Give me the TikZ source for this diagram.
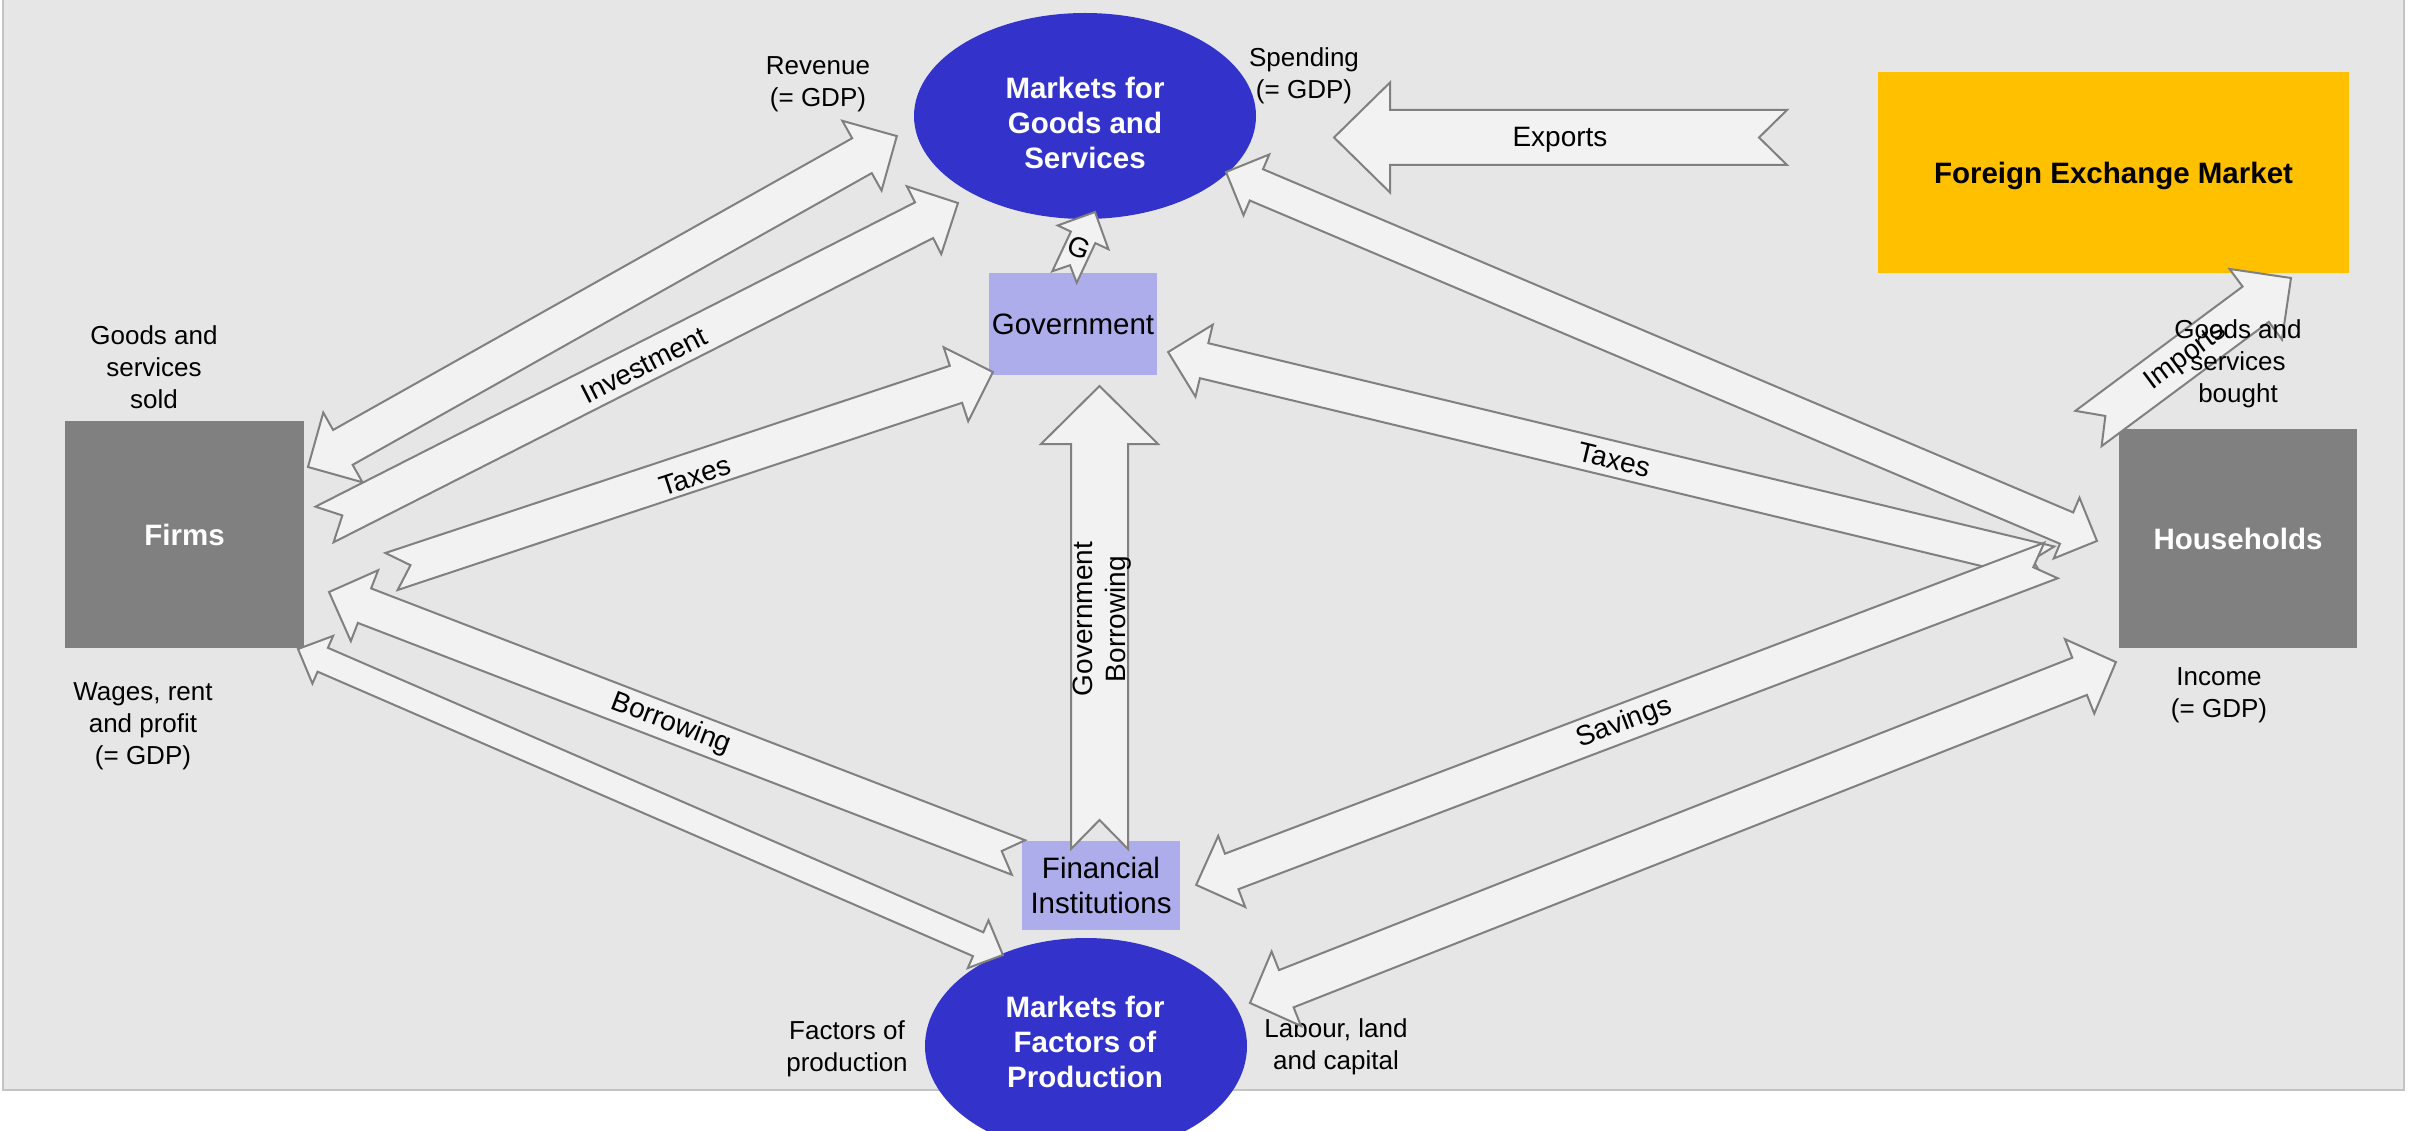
\documentclass[tikz,border=0pt]{standalone}
\usepackage{fontspec}
\setmainfont{Liberation Sans}
\usetikzlibrary{shapes.geometric,calc}
\definecolor{bgc}{HTML}{E6E6E6}
\definecolor{bordc}{HTML}{C4C4C4}
\definecolor{mktc}{HTML}{3333CC}
\definecolor{lavc}{HTML}{ADADEB}
\definecolor{dgrayc}{HTML}{808080}
\definecolor{fxc}{HTML}{FFC000}
\definecolor{afill}{HTML}{F2F2F2}
\definecolor{aline}{HTML}{808080}
\newcommand\fslab{\fontsize{26}{32}\selectfont}
\newcommand\fsnode{\fontsize{29.5}{35}\selectfont}
\newcommand\fsarr{\fontsize{28}{33}\selectfont}
\newcommand\arrowgeom[2]{%
  \path (#1) coordinate (fas) (#2) coordinate (fae);
  \pgfpointdiff{\pgfpointanchor{fas}{center}}{\pgfpointanchor{fae}{center}}%
  \pgfgetlastxy{\fadx}{\fady}%
  \pgfmathsetmacro\faang{atan2(\fady,\fadx)}%
  \pgfmathsetmacro\falen{veclen(\fadx,\fady)}%
}
% #1 tail centre, #2 tip, #3 shaft half width, #4 head half width, #5 head length, #6 notch depth
\newcommand\onearrow[6]{%
  \arrowgeom{#1}{#2}%
  \begin{scope}[shift={(fas)},rotate=\faang]
    \draw[blockarrow] (0pt,#3pt) -- ({\falen pt-#5pt},#3pt) -- ({\falen pt-#5pt},#4pt)
      -- (\falen pt,0pt) -- ({\falen pt-#5pt},-#4pt) -- ({\falen pt-#5pt},-#3pt)
      -- (0pt,-#3pt) -- (#6pt,0pt) -- cycle;
  \end{scope}}
% #1 tip one, #2 tip two, #3 shaft half width, #4 head half width, #5 head length
\newcommand\twoarrow[5]{%
  \arrowgeom{#1}{#2}%
  \begin{scope}[shift={(fas)},rotate=\faang]
    \draw[blockarrow] (#5pt,#3pt) -- ({\falen pt-#5pt},#3pt) -- ({\falen pt-#5pt},#4pt)
      -- (\falen pt,0pt) -- ({\falen pt-#5pt},-#4pt) -- ({\falen pt-#5pt},-#3pt)
      -- (#5pt,-#3pt) -- (#5pt,-#4pt) -- (0pt,0pt) -- (#5pt,#4pt) -- cycle;
  \end{scope}}
\begin{document}
\begin{tikzpicture}[x=1pt,y=-1pt,
  blockarrow/.style={fill=afill,draw=aline,line width=2pt,line join=miter},
  lab/.style={font=\fslab,align=center,inner sep=0pt,text=black},
  alab/.style={font=\fsarr,inner sep=0pt,text=black},
  mkt/.style={ellipse,fill=mktc,inner sep=0pt},
  mkttext/.style={text=white,font=\fsnode\bfseries,align=center,inner sep=0pt},
  lavbox/.style={rectangle,fill=lavc,text=black,font=\fsnode,align=center,inner sep=0pt},
  graybox/.style={rectangle,fill=dgrayc,text=white,font=\fsnode\bfseries,align=center,inner sep=0pt},
  fxbox/.style={rectangle,fill=fxc,inner sep=0pt},
  fxtext/.style={text=black,font=\fsnode\bfseries,align=center,inner sep=0pt}]
\useasboundingbox (0,0) rectangle (2420,1131);
\fill[white] (0,0) rectangle (2420,1131);
\draw[fill=bgc,draw=bordc,line width=1.5pt] (3,-10) rectangle (2404,1090);

% main nodes
\node[mkt,minimum width=342pt,minimum height=206pt] (goods) at (1085,116) {};
\node[mkttext] (goodst) at (1085,123) {Markets for\\Goods and\\Services};
\node[mkt,minimum width=322pt,minimum height=216pt] (factors) at (1086,1046) {};
\node[mkttext] (factorst) at (1085,1042) {Markets for\\Factors of\\Production};
\node[lavbox,minimum width=168pt,minimum height=102pt] (gov) at (1073,324) {Government};
\node[lavbox,minimum width=158pt,minimum height=89pt] (fin) at (1101,885) {Financial\\Institutions};
\node[graybox,minimum width=239pt,minimum height=227pt] (firms) at (184.5,534.5) {Firms};
\node[graybox,minimum width=238pt,minimum height=219pt] (house) at (2238,538.5) {Households};
\node[fxbox,minimum width=471pt,minimum height=201pt] (fx) at (2113.5,172.5) {};
\node[fxtext] (fxt) at (2113.5,176) {Foreign Exchange Market};

% flow labels
\node[lab] (lrev) at (818,84) {Revenue\\(= GDP)};
\node[lab] (lspend) at (1304,76) {Spending\\(= GDP)};
\node[lab] (lsold) at (154,367) {Goods and\\services\\sold};
\node[lab] (lwages) at (143,726) {Wages, rent\\and profit\\(= GDP)};
\node[lab] (lfact) at (847,1049) {Factors of\\production};
\node[lab] (llab) at (1336,1047) {Labour, land\\and capital};
\node[lab] (linc) at (2219,695) {Income\\(= GDP)};

% arrow end points
\coordinate (aF) at (308,467);    \coordinate (aM) at (897,136);
\coordinate (bF) at (324.5,524.5); \coordinate (bM) at (958,203);
\coordinate (cF) at (391.5,571.5); \coordinate (cG) at (993,372);
\coordinate (dI) at (1018.5,857.5); \coordinate (dF) at (329,592);
\coordinate (eF) at (298,649);    \coordinate (eM) at (1003,955);
\coordinate (fI) at (1099.5,849); \coordinate (fG) at (1099.5,386);
\coordinate (gG) at (1064.5,277); \coordinate (gM) at (1095,212);
\coordinate (hX) at (1787,137.5); \coordinate (hM) at (1334,137.5);
\coordinate (iH) at (2088.5,428.5); \coordinate (iX) at (2291,278);
\coordinate (jM) at (1226,172);   \coordinate (jH) at (2097,541);
\coordinate (kH) at (2050,564);   \coordinate (kG) at (1168,352);
\coordinate (lH) at (2051,560.5); \coordinate (lI) at (1196,885);
\coordinate (mM) at (1250,1003);  \coordinate (mH) at (2116,662);

% block arrows
\twoarrow{aF}{aM}{20}{40}{40}
\onearrow{bF}{bM}{20}{38}{38}{20}
\onearrow{cF}{cG}{19.5}{39}{39}{20}
\onearrow{dI}{dF}{18.5}{38}{38}{18}
\twoarrow{eF}{eM}{13}{26}{27}
\onearrow{fI}{fG}{28.5}{58.5}{58}{29}
\onearrow{gG}{gM}{13.5}{28}{28}{13}
\onearrow{hX}{hM}{27.5}{55}{56}{28}
\onearrow{iH}{iX}{22}{44}{44}{21}
\twoarrow{jM}{jH}{17}{33}{33}
\onearrow{kH}{kG}{18}{37}{37}{18}
\onearrow{lH}{lI}{19}{38}{38}{19}
\twoarrow{mM}{mH}{20}{40}{39}

% arrow labels
\node[alab,rotate=26.9] (linv) at (644,365) {Investment};
\node[alab,rotate=18.3] (ltaxl) at (695,476) {Taxes};
\node[alab,rotate=-21] (lborr) at (671,724) {Borrowing};
\node[alab,rotate=-13.5] (ltaxr) at (1614,460) {Taxes};
\node[alab,rotate=20.8] (lsav) at (1624,723) {Savings};
\node[alab] (lexp) at (1560,140) {Exports};
\node[alab,rotate=-22] (lg) at (1079,248) {G};
\node[alab,rotate=36.6] (limp) at (2186,357) {Imports};
\node[alab,rotate=90,align=center] (lgb) at (1102,619) {Government\\Borrowing};
\node[lab] (lbought) at (2238,364) {Goods and\\services\\bought};
\end{tikzpicture}
\end{document}
